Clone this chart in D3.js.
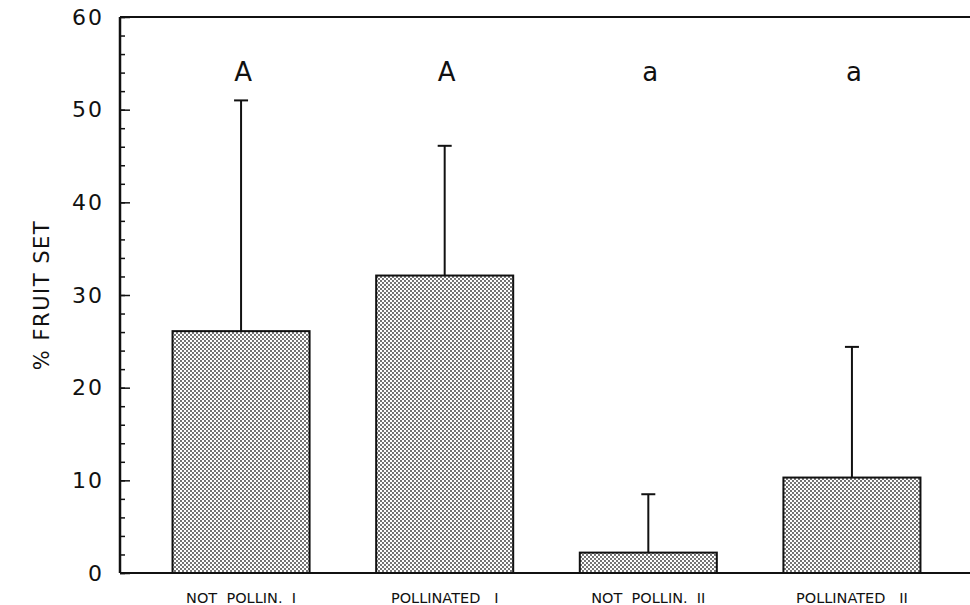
<!DOCTYPE html>
<html>
<head>
<meta charset="utf-8">
<script src="https://cdn.jsdelivr.net/npm/d3@7"></script>
<style>
  body { margin: 0; background: #fff; }
  text { font-family: "DejaVu Sans", sans-serif; fill: #111; }
</style>
</head>
<body>
<svg id="chart" width="970" height="605"></svg>
<script>
// data
var categories = ['NOT  POLLIN.  I', 'POLLINATED   I', 'NOT  POLLIN.  II', 'POLLINATED   II'];
var means = [26.1, 32.1, 2.2, 10.3];
var upperErr = [24.9, 14.0, 6.3, 14.1];
var letters = ['A', 'A', 'a', 'a'];
var yTicks = [0, 10, 20, 30, 40, 50, 60];
var yMinorTicks = d3.range(0, 61, 2);

var svg = d3.select('#chart');
var plotLeft = 120, plotRight = 973, plotTop = 17, plotBottom = 573;

var x = d3.scaleBand()
          .domain(d3.range(categories.length))
          .range([plotLeft, plotRight])
          .paddingInner(0.327)
          .paddingOuter(0.258);

var y = d3.scaleLinear().domain([0, 60]).range([plotBottom, plotTop]);

// stipple fill
var pat = svg.append('defs').append('pattern')
             .attr('id', 'stipple')
             .attr('width', 4).attr('height', 4)
             .attr('patternUnits', 'userSpaceOnUse');
pat.append('rect').attr('width', 4).attr('height', 4).attr('fill', '#fff');
pat.append('circle').attr('cx', 1).attr('cy', 1).attr('r', 0.9).attr('fill', '#333');
pat.append('circle').attr('cx', 3).attr('cy', 3).attr('r', 0.9).attr('fill', '#333');

// minor ticks
svg.append('g')
   .attr('transform', 'translate(' + plotLeft + ',0)')
   .call(d3.axisLeft(y).tickValues(yMinorTicks).tickSize(-5).tickFormat(''))
   .call(function(g) { g.select('.domain').remove(); })
   .selectAll('line').attr('stroke', '#111').attr('stroke-width', 1.5);

// major ticks + labels
var yAxis = svg.append('g')
   .attr('transform', 'translate(' + plotLeft + ',0)')
   .call(d3.axisLeft(y).tickValues(yTicks).tickSize(-10).tickPadding(16))
   .call(function(g) { g.select('.domain').remove(); });
yAxis.selectAll('line').attr('stroke', '#111').attr('stroke-width', 1.5);
yAxis.selectAll('text')
     .style('font-family', '"DejaVu Sans", sans-serif')
     .style('font-size', '22px')
     .style('letter-spacing', '2px')
     .attr('fill', '#111');

// frame lines
svg.append('line').attr('x1', plotLeft).attr('x2', 970).attr('y1', y(60)).attr('y2', y(60))
   .attr('stroke', '#111').attr('stroke-width', 2);
svg.append('line').attr('x1', plotLeft).attr('x2', 970).attr('y1', y(0)).attr('y2', y(0))
   .attr('stroke', '#111').attr('stroke-width', 2);
svg.append('line').attr('x1', plotLeft).attr('x2', plotLeft).attr('y1', y(60)).attr('y2', y(0))
   .attr('stroke', '#111').attr('stroke-width', 2.5);

// error bars
var cap = 7;
var eb = svg.append('g').selectAll('g').data(means).join('g');
eb.append('line')
  .attr('x1', function(d, i) { return x(i) + x.bandwidth() / 2; })
  .attr('x2', function(d, i) { return x(i) + x.bandwidth() / 2; })
  .attr('y1', function(d) { return y(d); })
  .attr('y2', function(d, i) { return y(d + upperErr[i]); })
  .attr('stroke', '#111').attr('stroke-width', 2);
eb.append('line')
  .attr('x1', function(d, i) { return x(i) + x.bandwidth() / 2 - cap; })
  .attr('x2', function(d, i) { return x(i) + x.bandwidth() / 2 + cap; })
  .attr('y1', function(d, i) { return y(d + upperErr[i]); })
  .attr('y2', function(d, i) { return y(d + upperErr[i]); })
  .attr('stroke', '#111').attr('stroke-width', 2);

// bars
svg.append('g').selectAll('rect').data(means).join('rect')
   .attr('x', function(d, i) { return x(i); })
   .attr('y', function(d) { return y(d); })
   .attr('width', x.bandwidth())
   .attr('height', function(d) { return y(0) - y(d); })
   .attr('fill', 'url(#stipple)')
   .attr('stroke', '#111')
   .attr('stroke-width', 2);

// significance letters
svg.append('g').selectAll('text').data(letters).join('text')
   .attr('x', function(d, i) { return x(i) + x.bandwidth() / 2 + 2; })
   .attr('y', 81)
   .attr('text-anchor', 'middle')
   .style('font-size', '26px')
   .text(function(d) { return d; });

// category labels
svg.append('g').selectAll('text').data(categories).join('text')
   .attr('x', function(d, i) { return x(i) + x.bandwidth() / 2; })
   .attr('y', 603)
   .attr('text-anchor', 'middle')
   .style('font-size', '14.5px')
   .style('white-space', 'pre')
   .text(function(d) { return d; });

// y title
svg.append('text')
   .attr('transform', 'translate(49,' + ((plotTop + plotBottom) / 2) + ') rotate(-90)')
   .attr('text-anchor', 'middle')
   .style('font-size', '21px')
   .style('letter-spacing', '1.5px')
   .text('% FRUIT SET');
</script>
</body>
</html>
